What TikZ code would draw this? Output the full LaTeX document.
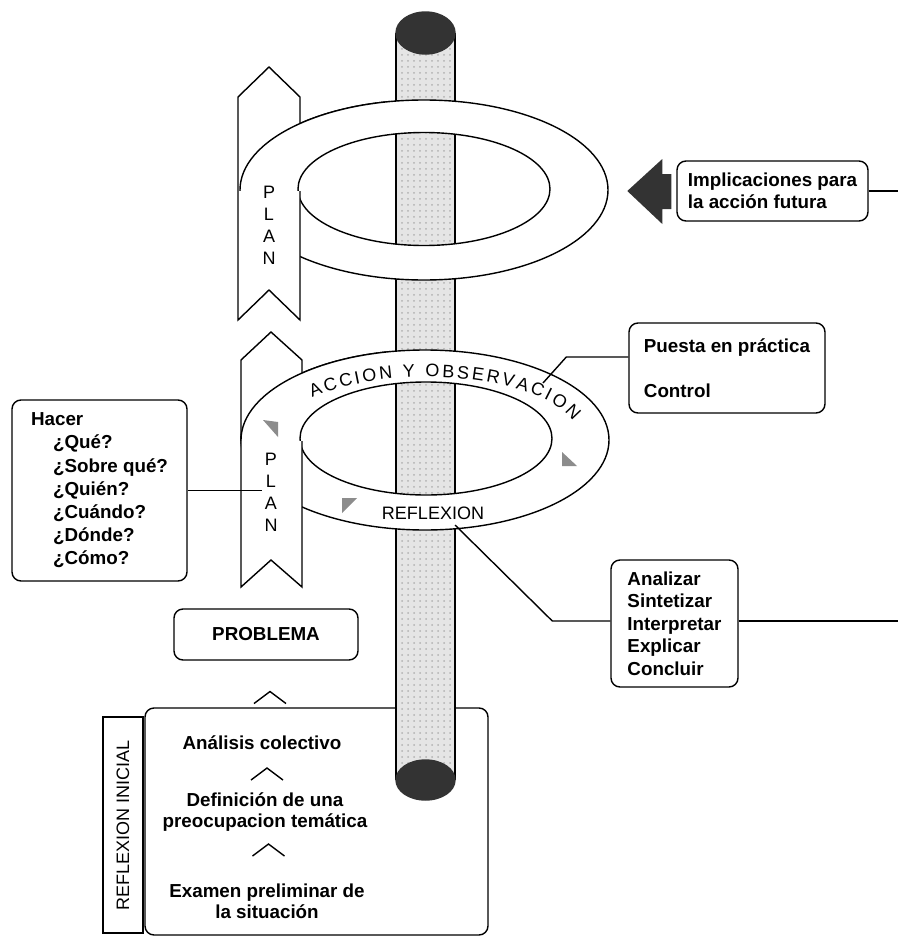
\documentclass[tikz,border=0pt]{standalone}
\usepackage{fontspec}
\setmainfont{Liberation Sans}
\usetikzlibrary{patterns,decorations.text}

\tikzset{
  notebox/.style={draw, fill=white, rounded corners=4.5pt, inner sep=0pt, align=left, font=\bfseries\fontsize{9.4}{11.3}\selectfont},
  ringband/.style={draw, fill=white, even odd rule},
  planarrow/.style={draw, fill=white},
  ringtxt/.style={inner sep=0pt, align=center, font=\fontsize{9}{11}\selectfont},
  stepstxt/.style={inner sep=0pt, align=center, font=\bfseries\fontsize{9.4}{10.5}\selectfont},
  polebody/.style={fill=black!10, postaction={pattern=dots, pattern color=black!30}},
  polecap/.style={fill=black!80, draw=black!80},
  flagtri/.style={fill=black!45},
  darkarrow/.style={fill=black!80},
}

\begin{document}
\begin{tikzpicture}[x=0.5pt,y=0.5pt,line width=0.7pt]
    \useasboundingbox (0,0) rectangle (898,-937);

    %Shape: frame of the initial reflection
    \node[notebox, minimum width=171.5pt, minimum height=113.5pt] (inicial) at (316.5,-821.5) {};
    \node[draw, fill=white, rotate=90, minimum width=108pt, minimum height=20pt, inner sep=0pt, font=\fontsize{9}{11}\selectfont] (inicialtag) at (123,-825) {REFLEXION INICIAL};

    % Text Node
    \node[stepstxt] (analisis) at (262,-743) {Análisis colectivo};
    % Text Node
    \node[stepstxt] (definicion) at (265,-812.5) {Definición de una\\preocupacion temática};
    % Text Node
    \node[stepstxt] (examen) at (267,-901) {Examen preliminar de\\la situación};
    % Text Node
    \node[notebox, minimum width=92pt, minimum height=25.5pt, align=center] (problema) at (266,-634.5) {PROBLEMA};

    %Straight Lines: the three chevrons
    \coordinate (chev1) at (270,-697.5);
    \coordinate (chev2) at (267,-774);
    \coordinate (chev3) at (268.5,-850);
    \foreach \c in {chev1,chev2,chev3}
        \draw (\c) ++(-16,-6) -- ++(16,12) -- ++(16,-12);

    %Shape: pole
    \fill[polebody] (396,-33) rectangle (455,-780);
    \draw (396,-33) -- (396,-780) (455,-33) -- (455,-780);
    \filldraw[polecap] (425.5,-33) ellipse[x radius=29.5, y radius=21];
    \filldraw[polecap] (425.5,-780) ellipse[x radius=29.5, y radius=20];

    %Shape: upper ring and its plan arrow
    \path[ringband] (424,-190) ellipse[x radius=184, y radius=90] (424,-189) ellipse[x radius=126, y radius=56.5];
    \draw[planarrow] (238,-97) -- (269,-67) -- (300,-97) -- (300,-320) -- (269,-290) -- (238,-320) -- cycle;
    \begin{scope}
        \clip (0,-190) rectangle (390,-60);
        \filldraw[fill=white] (424,-190) ellipse[x radius=184, y radius=90];
        \draw (424,-189) ellipse[x radius=126, y radius=56.5];
    \end{scope}
    \node[ringtxt] (plantop) at (269,-225) {P\\L\\A\\N};

    %Shape: lower ring and its plan arrow
    \path[ringband] (425,-440) ellipse[x radius=184, y radius=90] (426,-438.5) ellipse[x radius=126, y radius=56.5];
    \draw[planarrow] (241,-360) -- (271,-332) -- (302,-360) -- (302,-587) -- (271,-560) -- (241,-587) -- cycle;
    \begin{scope}
        \clip (0,-440) rectangle (390,-340);
        \filldraw[fill=white] (425,-440) ellipse[x radius=184, y radius=90];
        \draw (426,-438.5) ellipse[x radius=126, y radius=56.5];
    \end{scope}
    \node[ringtxt] (planlow) at (271,-492) {P\\L\\A\\N};

    % Text Node: along the ring
    \path[decorate, decoration={text along path, text align={fit to path},
        text={|\fontsize{9}{11}\selectfont|ACCION Y OBSERVACION}}]
        (427,-438) ++(139:152 and 61) arc[start angle=139, end angle=16, x radius=152, y radius=61];
    % Text Node
    \node[ringtxt] (reflexion) at (433,-513) {REFLEXION};

    %Shape: small flags on the ring
    \fill[flagtri] (263,-420) -- (278,-422) -- (278,-437) -- cycle;
    \fill[flagtri] (562,-452) -- (577,-466) -- (562,-466) -- cycle;
    \fill[flagtri] (342,-498) -- (357,-498) -- (342,-513) -- cycle;

    % Text Node
    \node[notebox, minimum width=95.5pt, minimum height=30pt, font=\bfseries\fontsize{9.4}{10.85}\selectfont] (implic) at (772.5,-191) {Implicaciones para\\la acción futura};
    % Text Node
    \node[notebox, minimum width=98pt, minimum height=45pt] (puesta) at (727,-368) {Puesta en práctica\\[11.2pt]Control};
    % Text Node
    \node[notebox, minimum width=87.5pt, minimum height=90.5pt, font=\bfseries\fontsize{9.4}{11.6}\selectfont] (hacer) at (99.5,-490.5)
        {Hacer\\\hspace*{11pt}¿Qué?\\\hspace*{11pt}¿Sobre qué?\\\hspace*{11pt}¿Quién?\\\hspace*{11pt}¿Cuándo?\\\hspace*{11pt}¿Dónde?\\\hspace*{11pt}¿Cómo?};
    % Text Node
    \node[notebox, minimum width=63.5pt, minimum height=63.5pt, font=\bfseries\fontsize{9.4}{11.25}\selectfont] (analizar) at (674.5,-623.5)
        {Analizar\\Sintetizar\\Interpretar\\Explicar\\Concluir};

    %Shape: block arrow
    \fill[darkarrow] ([shift={(-5,17)}]implic.west) -- ++(-9,0) -- ++(0,15) -- ++(-35,-32) -- ++(35,-33) -- ++(0,15) -- ++(9,0) -- cycle;

    %Straight Lines
    \coordinate (implend) at (898,-191);
    \coordinate (analend) at (898,-621);
    \coordinate (accionpt) at (543,-383);
    \coordinate (reflexpt) at (455,-525);
    \coordinate (planpt) at (262,-491);
    \draw (implic.east) -- (implend);
    \draw ([yshift=5.5pt]puesta.west) -- ++(-62,0) -- (accionpt);
    \draw (hacer.east) -- (hacer.east -| planpt);
    \draw ([yshift=1.25pt]analizar.west) -- ++(-58,0) -- (reflexpt);
    \draw ([yshift=1.25pt]analizar.east) -- (analend);

\end{tikzpicture}
\end{document}
